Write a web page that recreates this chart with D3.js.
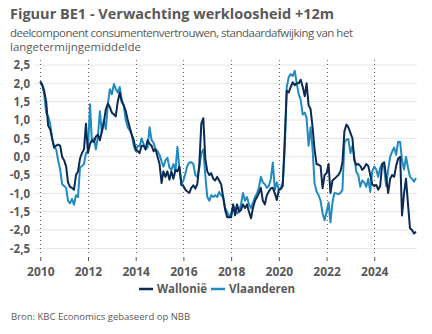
<!DOCTYPE html>
<html><head><meta charset="utf-8">
<script src="https://cdn.jsdelivr.net/npm/d3@7"></script>
<style>
html,body{margin:0;padding:0;background:#fff;}
svg{display:block;font-family:"Open Sans",sans-serif;}
</style></head>
<body><svg id="c" width="432" height="334"></svg>
<script>
const title = "Figuur BE1 - Verwachting werkloosheid +12m";
const subtitle = ["deelcomponent consumentenvertrouwen, standaardafwijking van het", "langetermijngemiddelde"];
const source = "Bron: KBC Economics gebaseerd op NBB";
const seriesNames = ["Wallonië", "Vlaanderen"];
const startYear = 2010;
const xTickYears = [2010, 2012, 2014, 2016, 2018, 2020, 2022, 2024];
const yTicks = [-2.5, -2.0, -1.5, -1.0, -0.5, 0.0, 0.5, 1.0, 1.5, 2.0, 2.5];

// monthly values from Jan 2010
const wallonie = [
  2.05, 1.95, 1.8, 1.5, 0.85, 0.75, 0.5, 0.25, 0.3, 0.33, 0.3, 0.0,
  -0.1, -0.27, -0.7, -0.82, -0.85, -0.9, -0.5, -0.4, -0.05, 0.1, 0.2, 0.9,
  0.1, 0.35, 0.45, 0.4, 0.55, 0.6, 0.45, 0.7, 0.95, 1.3, 1.45, 1.35,
  1.2, 1.15, 1.1, 1.5, 1.75, 1.5, 1.4, 1.25, 1.0, 0.8, 0.6, 0.45,
  0.2, 0.15, 0.1, 0.3, 0.3, 0.2, 0.45, 0.35, 0.3, 0.15, 0.2, 0.0,
  -0.2, -0.72, -0.4, -0.55, -0.4, -0.63, -0.4, -0.6, -0.36, -0.4, -0.27, -0.77,
  -0.8, -0.9, -0.95, -0.99, -0.85, -0.78, -0.87, -0.75, -0.2, 0.9, 1.05, -0.05,
  -0.4, -0.5, -0.45, -0.6, -0.65, -0.55, -0.65, -0.75, -1.1, -1.45, -1.65, -1.65,
  -1.65, -1.3, -1.6, -1.3, -1.5, -1.45, -1.3, -1.4, -1.3, -1.5, -1.68, -1.4,
  -1.2, -1.1, -1.0, -0.85, -1.2, -1.3, -1.05, -0.95, -0.86, -0.85, -1.0, -1.18,
  -0.9, -0.88, -0.8, 0.5, 1.8, 1.75, 1.9, 2.03, 1.95, 2.0, 2.0, 2.1,
  1.9, 1.65, 2.0, 1.4, 1.3, 0.8, 0.2, -0.2, -0.22, -0.25, -0.86, -0.5,
  -0.45, -0.2, -0.99, -0.65, -0.6, -0.55, -0.5, -0.4, -0.16, 0.69, 0.88, 0.8,
  0.65, 0.5, -0.1, -0.22, -0.2, -0.25, -0.36, -0.3, -0.2, -0.25, -0.5, -0.75,
  -0.8, -0.77, -0.9, -0.8, -0.2, -0.15, -0.55, -0.99, -0.6, -0.5, -0.55, -0.25,
  -0.05, 0.0, -1.6, -1.0, -0.6, -1.3, -1.95, -2.0, -2.09, -2.05
];
const vlaanderen = [
  2.05, 1.95, 1.7, 1.2, 1.1, 0.9, 0.5, 0.25, 0.2, -0.1, -0.35, -0.75,
  -0.8, -0.85, -1.2, -1.27, -1.15, -1.31, -1.05, -1.1, -0.3, -0.25, -0.2, 0.1,
  0.15, 1.43, 0.41, 0.5, 0.2, 0.55, 1.24, 0.65, 1.0, 0.75, 1.45, 1.84,
  1.7, 1.98, 1.85, 1.75, 1.9, 1.55, 1.4, 1.0, 0.8, 0.72, 0.6, 0.3,
  0.15, 0.3, 0.28, 0.5, 0.35, 0.2, 0.25, 0.8, 0.45, 0.38, 0.2, 0.15,
  0.05, -0.13, -0.27, -0.1, -0.03, -0.3, -0.36, -0.2, -0.4, 0.27, -0.3, -0.75,
  -0.65, -0.45, -0.25, -0.16, -0.15, -0.2, -0.5, -0.55, -0.3, 0.1, 0.2, -0.5,
  -1.1, -1.2, -1.05, -1.1, -1.05, -1.1, -0.96, -1.05, -1.1, -1.4, -1.5, -1.65,
  -1.55, -1.35, -1.4, -1.55, -1.5, -1.3, -0.99, -1.2, -1.1, -1.3, -1.4, -1.25,
  -1.1, -1.0, -0.85, -0.55, -0.7, -0.75, -0.85, -0.8, -0.6, -0.16, -0.9, -0.7,
  -0.9, -0.85, -0.7, 0.2, 1.9, 2.17, 2.25, 2.2, 2.34, 2.0, 1.7, 1.55,
  1.15, 1.2, 1.05, 0.3, 0.8, 0.2, -0.72, -0.95, -1.05, -1.2, -1.54, -1.73,
  -1.5, -1.25, -1.79, -1.25, -0.99, -1.0, -1.02, -0.99, -0.9, 0.38, 0.47, 0.48,
  0.1, 0.3, 0.0, -0.41, -0.5, -0.82, -0.65, -0.7, -0.82, -0.6, -0.96, -0.4,
  -0.27, -0.35, -0.55, -0.3, -0.2, -0.3, -0.8, -0.35, 0.0, 0.14, 0.25, 0.05,
  0.41, 0.4, -0.1, -0.35, 0.0, -0.3, -0.55, -0.6, -0.68, -0.58
];
const colors = ["#0b2a55", "#1f8bc1"];
const textColor = "#595959";

const svg = d3.select("#c");
const x = d3.scaleTime().domain([new Date(2010,0,1), new Date(2026,0,1)]).range([40.3, 422]);
const y = d3.scaleLinear().domain([-2.5, 2.5]).range([248.4, 65]);
const plotRight = 417, plotTop = 60, plotBottom = 254;

// title / subtitle
svg.append("text").attr("x", 10).attr("y", 19).attr("fill", textColor)
  .attr("font-weight", 700).attr("font-size", 14.5).text(title);
subtitle.forEach((s, i) => {
  const t = svg.append("text").attr("x", 10).attr("y", 37 + i * 13.5)
    .attr("fill", textColor).attr("font-size", 11.5).text(s);
  if (i === 0) t.attr("textLength", 343).attr("lengthAdjust", "spacing");
});

// horizontal grid
svg.append("g").selectAll("line").data(yTicks).join("line")
  .attr("x1", 35).attr("x2", plotRight)
  .attr("y1", d => y(d)).attr("y2", d => y(d))
  .attr("stroke", "#e6e6e6").attr("stroke-width", 1);

// vertical dotted grid
svg.append("g").selectAll("line").data(xTickYears).join("line")
  .attr("x1", d => Math.round(x(new Date(d,0,1))) + 0.5).attr("x2", d => Math.round(x(new Date(d,0,1))) + 0.5)
  .attr("y1", plotTop).attr("y2", plotBottom)
  .attr("stroke", "#666").attr("stroke-width", 1).attr("stroke-dasharray", "1,3");

// y axis labels
const fmt = v => d3.format(".1f")(v).replace(".", ",").replace("−", "-");
const yAxis = d3.axisLeft(y).tickValues(yTicks).tickFormat(fmt).tickSize(0).tickPadding(0);
const gy = svg.append("g").attr("transform", "translate(30,0)").call(yAxis);
gy.select(".domain").remove();
gy.selectAll("text").attr("fill", textColor).attr("font-size", 11.5).attr("font-weight", 700)
  .attr("font-family", "'Open Sans',sans-serif");

// x axis
const xAxis = d3.axisBottom(x).tickValues(xTickYears.map(yv => new Date(yv,0,1)))
  .tickFormat(d3.timeFormat("%Y")).tickSize(4).tickPadding(6);
const gx = svg.append("g").attr("transform", "translate(0,257)").call(xAxis);
gx.select(".domain").remove();
gx.selectAll("line").attr("stroke", "#555");
gx.selectAll("text").attr("fill", textColor).attr("font-size", 12).attr("font-weight", 700)
  .attr("font-family", "'Open Sans',sans-serif");

// lines
const line = d3.line().x((d, i) => x(new Date(startYear, i, 1))).y(d => y(d));
[vlaanderen, wallonie].forEach((s, k) => {
  svg.append("path").datum(s).attr("d", line).attr("fill", "none")
    .attr("stroke", k === 0 ? colors[1] : colors[0]).attr("stroke-width", 2)
    .attr("stroke-linejoin", "round");
});

// legend
const leg = svg.append("g");
const legItems = [{x: 139, name: seriesNames[0], c: colors[0]}, {x: 211, name: seriesNames[1], c: colors[1]}];
legItems.forEach(it => {
  leg.append("line").attr("x1", it.x).attr("x2", it.x + 14).attr("y1", 289).attr("y2", 289)
    .attr("stroke", it.c).attr("stroke-width", 2.5);
  leg.append("text").attr("x", it.x + 18).attr("y", 293).attr("fill", textColor)
    .attr("font-size", 11.5).attr("font-weight", 700).text(it.name);
});

// source
svg.append("text").attr("x", 11).attr("y", 320).attr("fill", textColor)
  .attr("font-size", 9.5).text(source);
</script></body></html>
